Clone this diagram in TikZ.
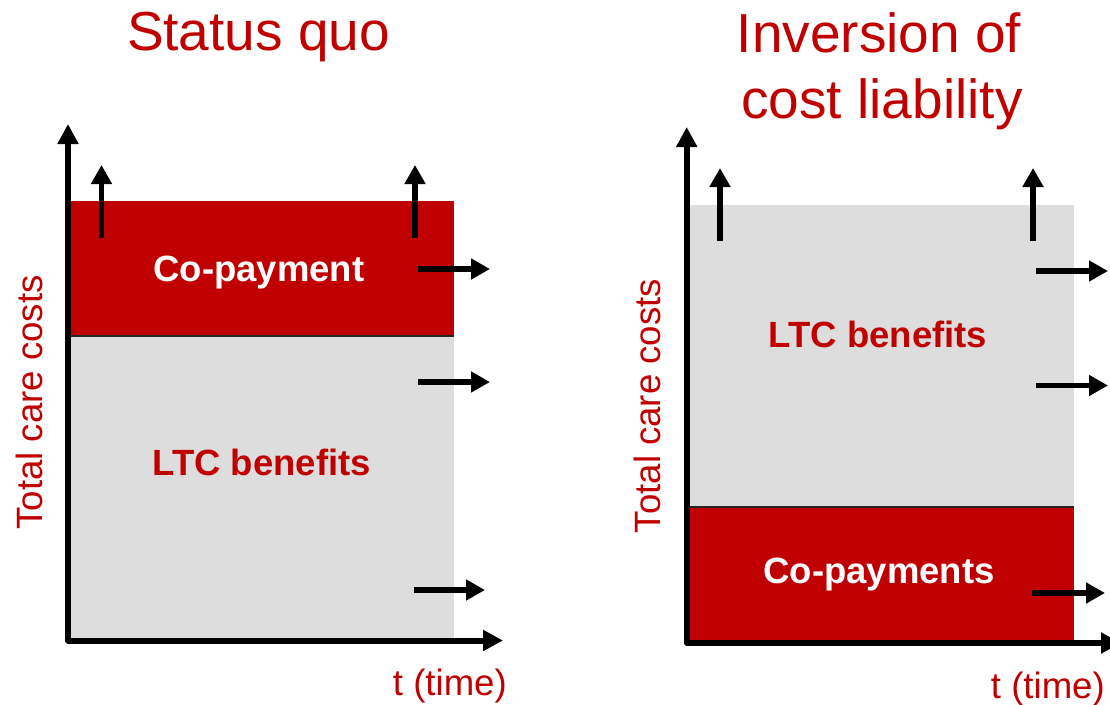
\documentclass[tikz,border=0pt]{standalone}
\usepackage{fontspec}
\setmainfont{Liberation Sans}
\usetikzlibrary{arrows.meta}
\definecolor{dred}{RGB}{192,0,0}
\definecolor{lgray}{RGB}{221,221,221}
\tikzset{
  x=1pt, y=-1pt,
  axisline/.style={line width=6pt, line join=round,
    {Triangle[length=20pt,width=20pt]}-{Triangle[length=20pt,width=20pt]}},
  movearrow/.style={line width=5.5pt, -{Triangle[length=19pt,width=20pt]}},
  title/.style={text=dred, font=\fontsize{55}{66}\selectfont, anchor=base, inner sep=0pt},
  axislabel/.style={text=dred, font=\fontsize{36.6}{44}\selectfont, inner sep=0pt},
  boxlabel/.style={font=\bfseries\fontsize{36.5}{44}\selectfont, anchor=base, inner sep=0pt},
  divider/.style={line width=1.5pt, draw=black!85}
}
\begin{document}
\begin{tikzpicture}
\useasboundingbox (0,0) rectangle (1110,704);
% ---------- left panel ----------
\fill[lgray] (71,336) rectangle (454,640);
\fill[dred] (71,201) rectangle (454,336);
\draw[divider] (71,336) -- (454,336);
\coordinate (ltop) at (68,124);
\coordinate (lorig) at (68,640.5);
\coordinate (lright) at (503,640.5);
\draw[axisline] (ltop) -- (lorig) -- (lright);
\node[title] (t1) at (258.5,50) {Status quo};
\node[boxlabel, text=white] (cp1) at (259,281.5) {Co-payment};
\node[boxlabel, text=dred] (ltc1) at (261.7,475.7) {LTC benefits};
\node[axislabel, anchor=base, rotate=90] (yl1) at (42,402.5) {Total care costs};
\node[axislabel, anchor=base east] (xl1) at (507,695) {t (time)};
% movement arrows left
\coordinate (lu1a) at (101.5,238); \coordinate (lu1b) at (101.5,165);
\coordinate (lu2a) at (415,238); \coordinate (lu2b) at (415,165);
\coordinate (lr1a) at (418,269); \coordinate (lr1b) at (490,269);
\coordinate (lr2a) at (418,382); \coordinate (lr2b) at (490,382);
\coordinate (lr3a) at (414,590); \coordinate (lr3b) at (485,590);
\draw[movearrow] (lu1a) -- (lu1b);
\draw[movearrow] (lu2a) -- (lu2b);
\draw[movearrow] (lr1a) -- (lr1b);
\draw[movearrow] (lr2a) -- (lr2b);
\draw[movearrow] (lr3a) -- (lr3b);
% ---------- right panel ----------
\fill[lgray] (690,205) rectangle (1074,507);
\fill[dred] (690,507) rectangle (1074,643);
\draw[divider] (690,507) -- (1074,507);
\coordinate (rtop) at (686.7,127);
\coordinate (rorig) at (686.7,643);
\coordinate (rright) at (1121,643);
\draw[axisline] (rtop) -- (rorig) -- (rright);
\node[title] (t2a) at (879,52.7) {Inversion of};
\node[title] (t2b) at (882,118) {cost liability};
\node[boxlabel, text=dred] (ltc2) at (878,347.3) {LTC benefits};
\node[boxlabel, text=white] (cp2) at (879,583.3) {Co-payments};
\node[axislabel, anchor=base, rotate=90] (yl2) at (660,406) {Total care costs};
\node[axislabel, anchor=base east] (xl2) at (1105,698) {t (time)};
% movement arrows right
\coordinate (ru1a) at (720,241); \coordinate (ru1b) at (720,168);
\coordinate (ru2a) at (1033,241); \coordinate (ru2b) at (1033,168);
\coordinate (rr1a) at (1036,271); \coordinate (rr1b) at (1108,271);
\coordinate (rr2a) at (1036,385.5); \coordinate (rr2b) at (1108,385.5);
\coordinate (rr3a) at (1032,593); \coordinate (rr3b) at (1105,593);
\draw[movearrow] (ru1a) -- (ru1b);
\draw[movearrow] (ru2a) -- (ru2b);
\draw[movearrow] (rr1a) -- (rr1b);
\draw[movearrow] (rr2a) -- (rr2b);
\draw[movearrow] (rr3a) -- (rr3b);
\end{tikzpicture}
\end{document}
